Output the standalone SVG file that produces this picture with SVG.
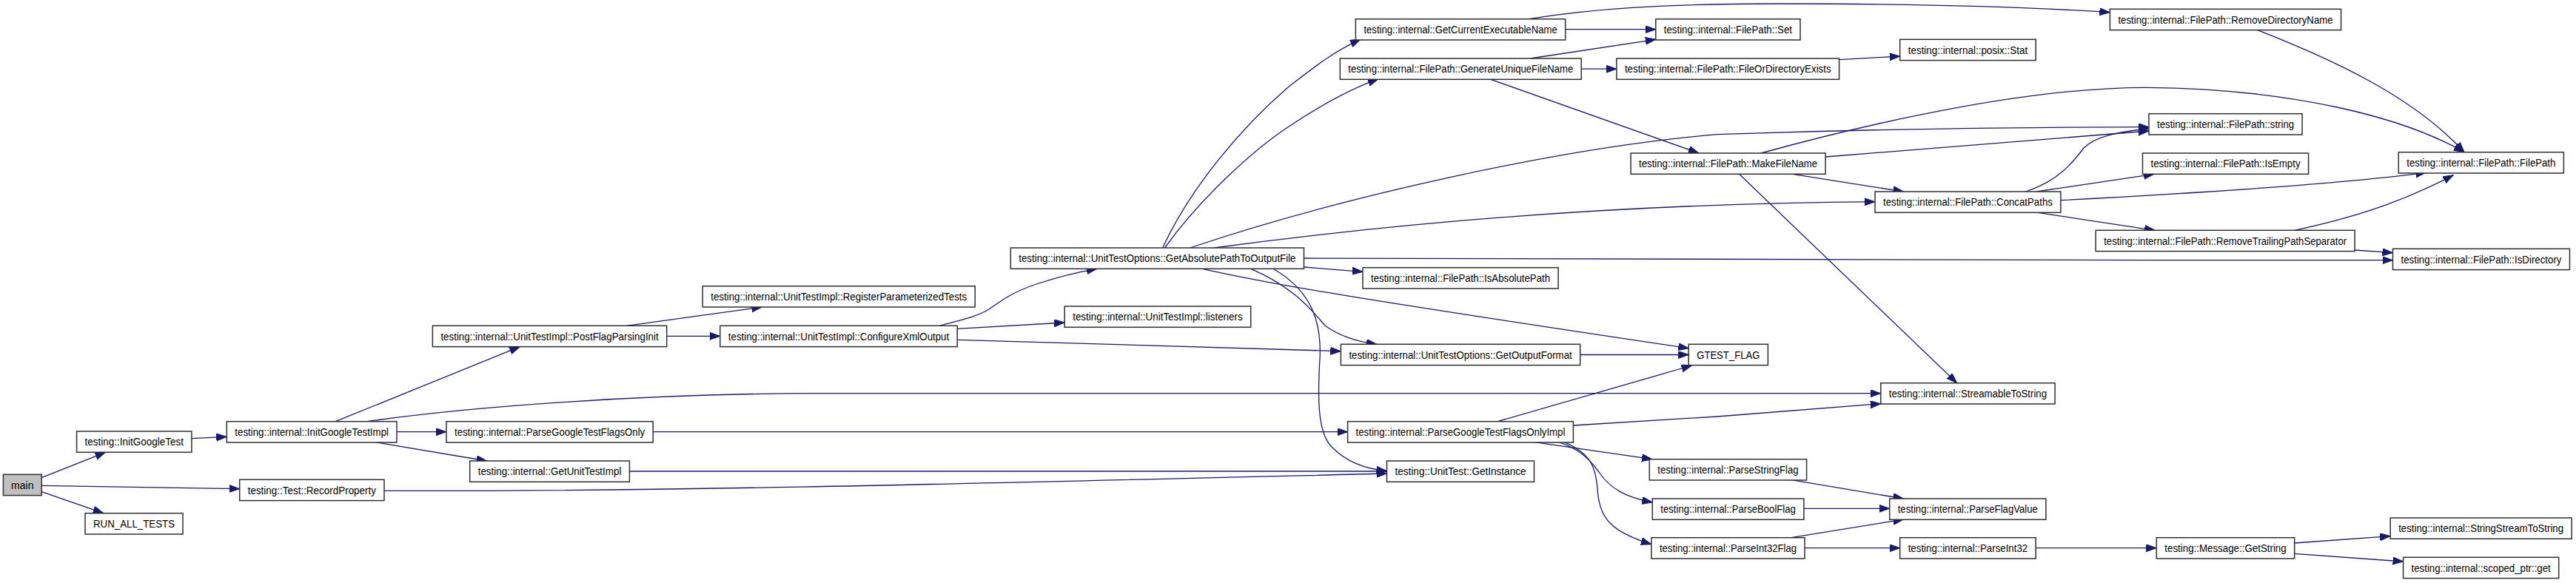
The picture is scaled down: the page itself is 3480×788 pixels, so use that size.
<svg xmlns="http://www.w3.org/2000/svg" width="3480" height="788" viewBox="0 0 3480 788">
<style>
.n rect{fill:#fff;stroke:#303030;stroke-width:1.5}
.n.root rect{fill:#bfbfbf}
.n text{font-family:"Liberation Sans",Arial,sans-serif;font-size:14px;fill:#000;text-anchor:middle}
.e path{fill:none;stroke:#191970;stroke-width:1.3;marker-end:url(#a)}
</style>
<defs>
<marker id="a" markerUnits="userSpaceOnUse" markerWidth="16" markerHeight="12" refX="14" refY="5" orient="auto"><path d="M0,0 L14,5 L0,10 z" fill="#191970" stroke="#191970" stroke-width="1"/></marker>
</defs>
<rect width="3480" height="788" fill="#fff"/>
<g id="edges" class="e">
<path d="M56.2,645.7 L142.4,611.3"/>
<path d="M56.2,656.3 L323.7,660.7"/>
<path d="M56.2,664.7 L139.8,693.7"/>
<path d="M258.9,592.7 L306.3,590.3"/>
<path d="M453.1,569.7 L702.1,468.7"/>
<path d="M495.7,569.7 C640,549 880,532 1100,531.7 L2540.8,531.7"/>
<path d="M536,583.7 L603,583.7"/>
<path d="M506.8,597.7 L657.7,623"/>
<path d="M846.3,440.3 L1029.4,415"/>
<path d="M900.7,454.3 L972.8,454.3"/>
<path d="M1269.1,440.3 C1300,432 1320,428 1336,418 C1352,407 1365,396 1400,384 C1430,374 1460,367 1482,363.3"/>
<path d="M1293.2,444.3 L1438.2,436"/>
<path d="M1293.2,459.3 L1811.4,474.7"/>
<path d="M882.2,583.7 L1820.6,583.7"/>
<path d="M850.4,637 L1873.5,637"/>
<path d="M519,663.3 C900,664.5 1300,654 1873.5,640"/>
<path d="M1570.6,335 C1610,250 1680,170 1740,118 C1770,95 1800,70 1838,53.3"/>
<path d="M1573.5,335 C1620,270 1690,205 1740,171.7 C1780,145 1820,122 1862,106.7"/>
<path d="M1607.6,335 C1800,270 2100,200 2320,181.7 C2600,172 2800,171.7 2903,171.7"/>
<path d="M1640,335 C1900,300 2200,275 2533,272.7"/>
<path d="M1761.5,349 L2900,351.7 L3232.5,351.7"/>
<path d="M1761.5,361 L1841,367.3"/>
<path d="M1690,363.3 C1740,385 1765,410 1790,440 C1810,455 1835,462 1860,465.3"/>
<path d="M1624.2,363.3 C1700,380 1760,393 2281.2,470.7"/>
<path d="M1720,363.3 C1775,395 1787,440 1782.5,494 C1780,545 1781,587 1800,605 C1820,625 1845,634 1873.5,636.5"/>
<path d="M2134.7,479.5 L2281.2,479.5"/>
<path d="M2023,569.7 L2285.6,494"/>
<path d="M2125.4,575 L2320,563 L2540.8,545.7"/>
<path d="M2073,597.7 L2232,620.7"/>
<path d="M2106.2,597.7 C2135,608 2147,620 2160,638 C2175,660 2195,672 2232.3,679"/>
<path d="M2113.6,597.7 C2145,612 2155,625 2158,660 C2160,700 2175,718 2230.9,735.7"/>
<path d="M2114.7,39.7 L2236.8,39.7"/>
<path d="M2065.5,25.7 C2150,12 2250,5 2400,5 C2600,5 2750,10 2850.4,16.7"/>
<path d="M2067.4,79 L2236.8,53.3"/>
<path d="M2136.2,93.2 L2183.9,93.2"/>
<path d="M2013.7,107.3 L2294.9,207"/>
<path d="M2484.6,80.7 L2566.7,76"/>
<path d="M2466.1,212 L2903,177"/>
<path d="M2379,207 C2550,160 2750,118 2900,118.3 C3100,120 3250,160 3329,205.7"/>
<path d="M2421.7,235.3 L2571.5,259"/>
<path d="M2349.6,235.3 L2643.7,517.7"/>
<path d="M2736.2,259 C2780,245 2800,220 2815,200 C2830,185 2860,178 2903,174"/>
<path d="M2751,259 L2910,235.3"/>
<path d="M2783.9,270.7 C2950,262 3150,250 3277.3,233.3"/>
<path d="M2752.8,287.3 L2911,311.3"/>
<path d="M3099.7,311.3 C3200,290 3260,265 3314.3,236.7"/>
<path d="M3181.1,338 L3232.5,341.7"/>
<path d="M3049.8,40.7 C3150,80 3260,130 3329,205.7"/>
<path d="M2419.9,648.7 L2571.5,674"/>
<path d="M2436.9,687.3 L2552.7,687.3"/>
<path d="M2419.9,726.7 L2571.5,702"/>
<path d="M2438,740.7 L2566.7,740.7"/>
<path d="M2750.2,740.7 L2913.3,740.7"/>
<path d="M3099.7,734 L3229.2,724.7"/>
<path d="M3099.7,748.3 L3246.6,759"/>
</g>
<g id="n_main" class="n root"><rect x="4.4" y="641.3" width="51.8" height="28.3"/><text x="30.3" y="660.5">main</text></g>
<g id="n_InitGoogleTest" class="n"><rect x="103.6" y="583" width="155.3" height="28.3"/><text x="181.25" y="602.2" textLength="133.3" lengthAdjust="spacingAndGlyphs">testing::InitGoogleTest</text></g>
<g id="n_InitGoogleTestImpl" class="n"><rect x="306.3" y="569.7" width="229.7" height="28.3"/><text x="421.15" y="588.9" textLength="207.7" lengthAdjust="spacingAndGlyphs">testing::internal::InitGoogleTestImpl</text></g>
<g id="n_RecordProperty" class="n"><rect x="323.7" y="648.3" width="195.3" height="28.3"/><text x="421.35" y="667.5" textLength="173.3" lengthAdjust="spacingAndGlyphs">testing::Test::RecordProperty</text></g>
<g id="n_RUN_ALL_TESTS" class="n"><rect x="115" y="693.7" width="132" height="28.3"/><text x="181" y="712.9" textLength="110" lengthAdjust="spacingAndGlyphs">RUN_ALL_TESTS</text></g>
<g id="n_PostFlagParsingInit" class="n"><rect x="584.4" y="440.3" width="316.3" height="28.3"/><text x="742.55" y="459.5" textLength="294.3" lengthAdjust="spacingAndGlyphs">testing::internal::UnitTestImpl::PostFlagParsingInit</text></g>
<g id="n_RegisterParameterizedTests" class="n"><rect x="949.2" y="386.7" width="368" height="28.3"/><text x="1133.2" y="405.9" textLength="346" lengthAdjust="spacingAndGlyphs">testing::internal::UnitTestImpl::RegisterParameterizedTests</text></g>
<g id="n_ConfigureXmlOutput" class="n"><rect x="972.8" y="440.3" width="320.4" height="28.3"/><text x="1133" y="459.5" textLength="298.4" lengthAdjust="spacingAndGlyphs">testing::internal::UnitTestImpl::ConfigureXmlOutput</text></g>
<g id="n_ParseGoogleTestFlagsOnly" class="n"><rect x="603" y="569.7" width="279.2" height="28.3"/><text x="742.6" y="588.9" textLength="257.2" lengthAdjust="spacingAndGlyphs">testing::internal::ParseGoogleTestFlagsOnly</text></g>
<g id="n_GetUnitTestImpl" class="n"><rect x="634.7" y="623" width="215.7" height="28.3"/><text x="742.55" y="642.2" textLength="193.7" lengthAdjust="spacingAndGlyphs">testing::internal::GetUnitTestImpl</text></g>
<g id="n_listeners" class="n"><rect x="1438.2" y="414" width="251.5" height="28.3"/><text x="1563.95" y="433.2" textLength="229.5" lengthAdjust="spacingAndGlyphs">testing::internal::UnitTestImpl::listeners</text></g>
<g id="n_GetAbsolutePathToOutputFile" class="n"><rect x="1365.3" y="335" width="396.2" height="28.3"/><text x="1563.4" y="354.2" textLength="374.2" lengthAdjust="spacingAndGlyphs">testing::internal::UnitTestOptions::GetAbsolutePathToOutputFile</text></g>
<g id="n_GetCurrentExecutableName" class="n"><rect x="1831.4" y="25.7" width="283.3" height="28.3"/><text x="1973.05" y="44.9" textLength="261.3" lengthAdjust="spacingAndGlyphs">testing::internal::GetCurrentExecutableName</text></g>
<g id="n_GenerateUniqueFileName" class="n"><rect x="1810.3" y="79" width="325.9" height="28.3"/><text x="1973.25" y="98.2" textLength="303.9" lengthAdjust="spacingAndGlyphs">testing::internal::FilePath::GenerateUniqueFileName</text></g>
<g id="n_Set" class="n"><rect x="2236.8" y="25.7" width="195.2" height="28.3"/><text x="2334.4" y="44.9" textLength="173.2" lengthAdjust="spacingAndGlyphs">testing::internal::FilePath::Set</text></g>
<g id="n_FileOrDirectoryExists" class="n"><rect x="2183.9" y="79" width="300.7" height="28.3"/><text x="2334.25" y="98.2" textLength="278.7" lengthAdjust="spacingAndGlyphs">testing::internal::FilePath::FileOrDirectoryExists</text></g>
<g id="n_MakeFileName" class="n"><rect x="2203.1" y="207" width="263" height="28.3"/><text x="2334.6" y="226.2" textLength="241" lengthAdjust="spacingAndGlyphs">testing::internal::FilePath::MakeFileName</text></g>
<g id="n_IsAbsolutePath" class="n"><rect x="1841" y="361.7" width="264.1" height="28.3"/><text x="1973.05" y="380.9" textLength="242.1" lengthAdjust="spacingAndGlyphs">testing::internal::FilePath::IsAbsolutePath</text></g>
<g id="n_GetOutputFormat" class="n"><rect x="1811.4" y="465.3" width="323.3" height="28.3"/><text x="1973.05" y="484.5" textLength="301.3" lengthAdjust="spacingAndGlyphs">testing::internal::UnitTestOptions::GetOutputFormat</text></g>
<g id="n_GTEST_FLAG" class="n"><rect x="2281.2" y="465.3" width="107.2" height="28.3"/><text x="2334.8" y="484.5" textLength="85.2" lengthAdjust="spacingAndGlyphs">GTEST_FLAG</text></g>
<g id="n_ParseGoogleTestFlagsOnlyImpl" class="n"><rect x="1820.6" y="569.7" width="304.8" height="28.3"/><text x="1973" y="588.9" textLength="282.8" lengthAdjust="spacingAndGlyphs">testing::internal::ParseGoogleTestFlagsOnlyImpl</text></g>
<g id="n_GetInstance" class="n"><rect x="1873.5" y="623" width="199" height="28.3"/><text x="1973" y="642.2" textLength="177" lengthAdjust="spacingAndGlyphs">testing::UnitTest::GetInstance</text></g>
<g id="n_ParseStringFlag" class="n"><rect x="2228.3" y="620.7" width="212.3" height="28.3"/><text x="2334.45" y="639.9" textLength="190.3" lengthAdjust="spacingAndGlyphs">testing::internal::ParseStringFlag</text></g>
<g id="n_ParseBoolFlag" class="n"><rect x="2232.3" y="674" width="204.6" height="28.3"/><text x="2334.6" y="693.2" textLength="182.6" lengthAdjust="spacingAndGlyphs">testing::internal::ParseBoolFlag</text></g>
<g id="n_ParseInt32Flag" class="n"><rect x="2230.9" y="726.7" width="207.1" height="28.3"/><text x="2334.45" y="745.9" textLength="185.1" lengthAdjust="spacingAndGlyphs">testing::internal::ParseInt32Flag</text></g>
<g id="n_Stat" class="n"><rect x="2566.7" y="53.3" width="183.5" height="28.3"/><text x="2658.45" y="72.5" textLength="161.5" lengthAdjust="spacingAndGlyphs">testing::internal::posix::Stat</text></g>
<g id="n_ConcatPaths" class="n"><rect x="2533" y="259" width="250.9" height="28.3"/><text x="2658.45" y="278.2" textLength="228.9" lengthAdjust="spacingAndGlyphs">testing::internal::FilePath::ConcatPaths</text></g>
<g id="n_RemoveDirectoryName" class="n"><rect x="2850.4" y="12.3" width="312.2" height="28.3"/><text x="3006.5" y="31.5" textLength="290.2" lengthAdjust="spacingAndGlyphs">testing::internal::FilePath::RemoveDirectoryName</text></g>
<g id="n_string" class="n"><rect x="2903" y="153.7" width="207.1" height="28.3"/><text x="3006.55" y="172.9" textLength="185.1" lengthAdjust="spacingAndGlyphs">testing::internal::FilePath::string</text></g>
<g id="n_IsEmpty" class="n"><rect x="2894.5" y="207" width="224.1" height="28.3"/><text x="3006.55" y="226.2" textLength="202.1" lengthAdjust="spacingAndGlyphs">testing::internal::FilePath::IsEmpty</text></g>
<g id="n_RemoveTrailingPathSeparator" class="n"><rect x="2831.2" y="311.3" width="349.9" height="28.3"/><text x="3006.15" y="330.5" textLength="327.9" lengthAdjust="spacingAndGlyphs">testing::internal::FilePath::RemoveTrailingPathSeparator</text></g>
<g id="n_FilePath" class="n"><rect x="3240.3" y="205.7" width="223.1" height="28.3"/><text x="3351.85" y="224.9" textLength="201.1" lengthAdjust="spacingAndGlyphs">testing::internal::FilePath::FilePath</text></g>
<g id="n_IsDirectory" class="n"><rect x="3232.5" y="336.3" width="239" height="28.3"/><text x="3352" y="355.5" textLength="217" lengthAdjust="spacingAndGlyphs">testing::internal::FilePath::IsDirectory</text></g>
<g id="n_StreamableToString" class="n"><rect x="2540.8" y="517.7" width="235.3" height="28.3"/><text x="2658.45" y="536.9" textLength="213.3" lengthAdjust="spacingAndGlyphs">testing::internal::StreamableToString</text></g>
<g id="n_ParseFlagValue" class="n"><rect x="2552.7" y="674" width="211.2" height="28.3"/><text x="2658.3" y="693.2" textLength="189.2" lengthAdjust="spacingAndGlyphs">testing::internal::ParseFlagValue</text></g>
<g id="n_ParseInt32" class="n"><rect x="2566.7" y="726.7" width="183.5" height="28.3"/><text x="2658.45" y="745.9" textLength="161.5" lengthAdjust="spacingAndGlyphs">testing::internal::ParseInt32</text></g>
<g id="n_GetString" class="n"><rect x="2913.3" y="726.7" width="186.4" height="28.3"/><text x="3006.5" y="745.9" textLength="164.4" lengthAdjust="spacingAndGlyphs">testing::Message::GetString</text></g>
<g id="n_StringStreamToString" class="n"><rect x="3229.2" y="700" width="244.9" height="28.3"/><text x="3351.65" y="719.2" textLength="222.9" lengthAdjust="spacingAndGlyphs">testing::internal::StringStreamToString</text></g>
<g id="n_scoped_ptr_get" class="n"><rect x="3246.6" y="753.3" width="210.1" height="28.3"/><text x="3351.65" y="772.5" textLength="188.1" lengthAdjust="spacingAndGlyphs">testing::internal::scoped_ptr::get</text></g>
</svg>
